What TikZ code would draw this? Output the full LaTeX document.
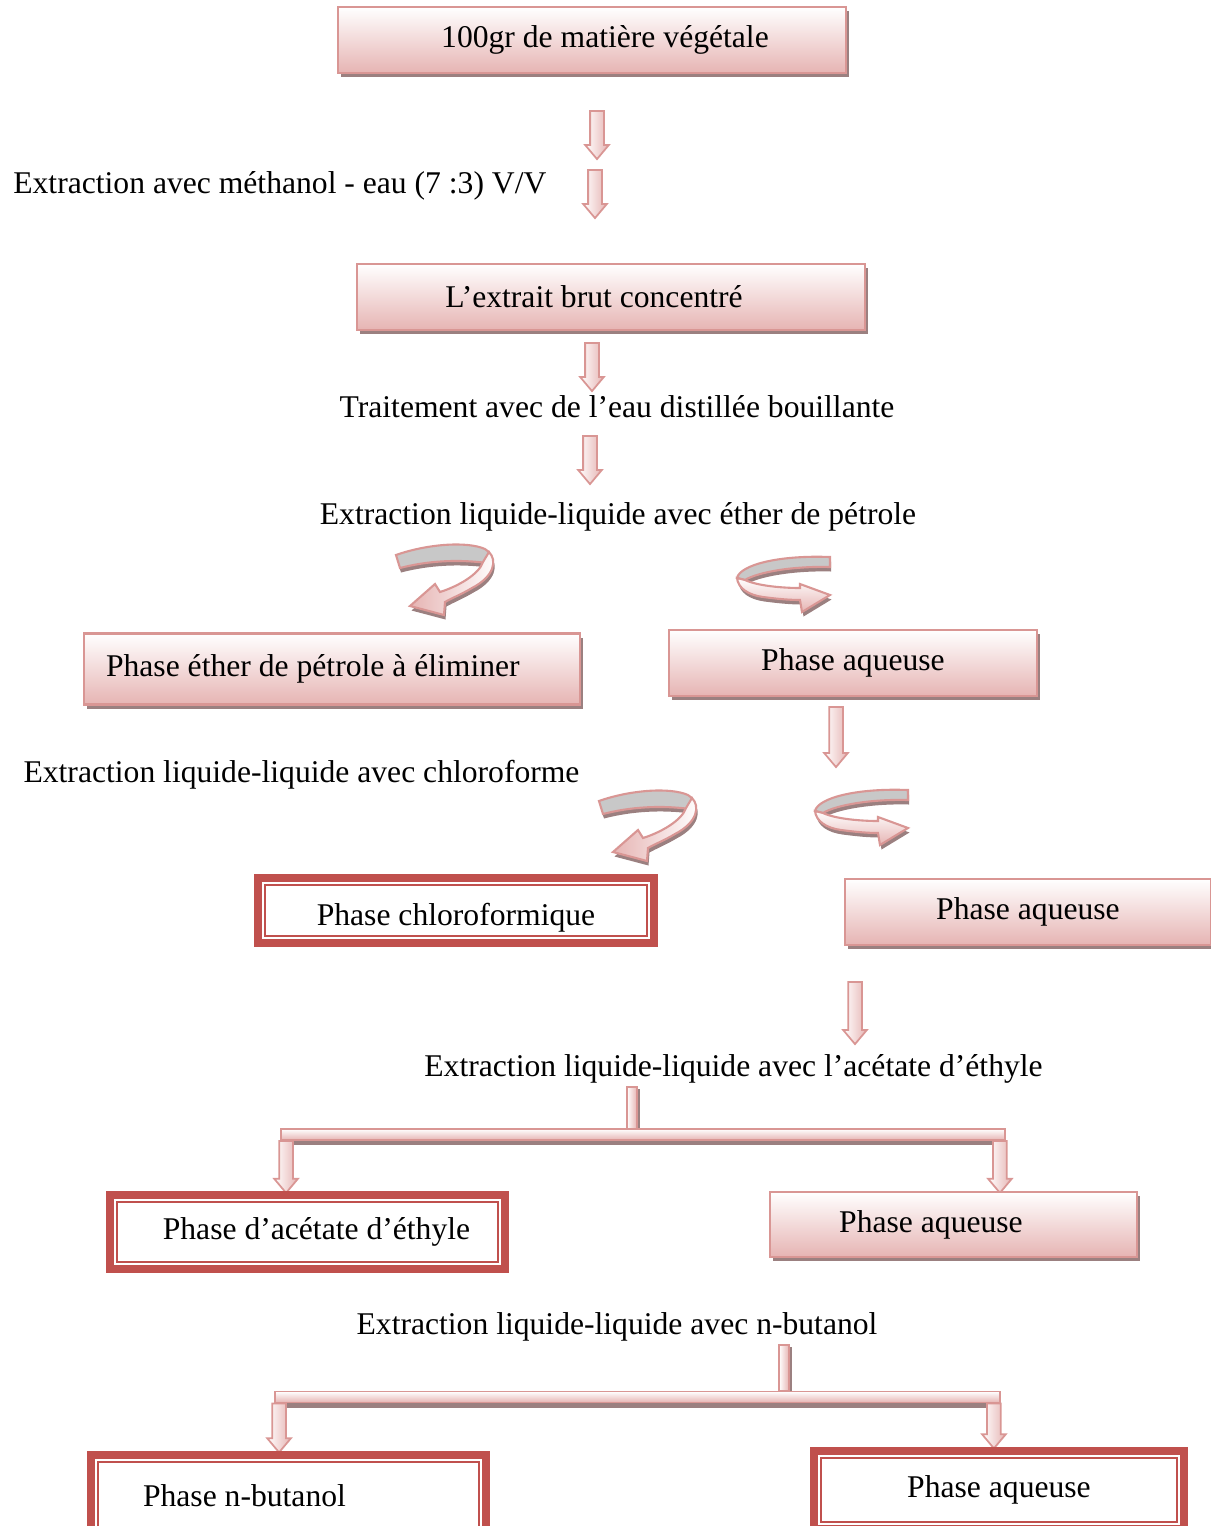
\documentclass[tikz,border=0pt]{standalone}
\usepackage{fontspec}
\setmainfont{Liberation Serif}
\usetikzlibrary{shapes.arrows,shadows}

\definecolor{roseline}{RGB}{217,150,148}
\definecolor{rosefill}{RGB}{230,180,179}
\definecolor{rosedark}{RGB}{192,80,77}
\definecolor{hatch}{RGB}{155,128,128}
\definecolor{backband}{RGB}{200,200,200}

\tikzset{
  phasebox/.style={draw=roseline,line width=1.3pt,top color=white,bottom color=rosefill,
    minimum height=1.32cm,inner sep=0pt,
    drop shadow={shadow xshift=0.06cm,shadow yshift=-0.08cm,fill=hatch,opacity=1}},
  keepbox/.style={draw=rosedark,line width=0.16cm,fill=white,inner sep=0pt,outer sep=0pt},
  keepline/.style={draw=rosedark,line width=1pt},
  steplabel/.style={inner sep=0pt},
  downarr/.style={single arrow,shape border rotate=270,draw=roseline,line width=1pt,
    left color=white,right color=rosefill,inner sep=0.12cm,
    single arrow head extend=0.1cm,single arrow tip angle=80,minimum height=0.96cm},
  stembar/.style={draw=roseline,line width=1pt,left color=white,right color=rosefill,
    minimum width=0.2cm,inner sep=0pt,outer sep=0pt,
    drop shadow={shadow xshift=0.05cm,shadow yshift=-0.03cm,fill=hatch,opacity=1}},
  crossbar/.style={draw=roseline,line width=1pt,top color=white,bottom color=rosefill,
    minimum height=0.22cm,inner sep=0pt,outer sep=0pt,
    drop shadow={shadow xshift=0.03cm,shadow yshift=-0.1cm,fill=hatch,opacity=1}},
  bandback/.style={draw=roseline,line width=1.2pt,fill=backband,
    drop shadow={shadow xshift=0.02cm,shadow yshift=-0.09cm,fill=hatch,opacity=1}},
  bandfront/.style={draw=roseline,line width=1.2pt,
    drop shadow={shadow xshift=0.03cm,shadow yshift=-0.09cm,fill=hatch,opacity=1}},
  curvleft/.pic={
    \draw[bandback] (-1,9) .. controls (30,-2) and (70,-5) .. (88,3)
      .. controls (94,6) and (95,12) .. (90,17) .. controls (60,13) and (30,15) .. (3,22) -- cycle;
    \draw[bandfront,left color=rosefill,right color=white] (92,6) .. controls (100,14) and (98,30) .. (75,42)
      .. controls (65,48) and (55,52) .. (48,56) -- (47,69) -- (13,60) -- (38,38) -- (43,46)
      .. controls (62,40) and (82,28) .. (86,16) -- cycle;
  },
  curvright/.pic={
    \draw[bandback] (92,2) -- (92,12) .. controls (55,11) and (20,17) .. (7,25) -- (-1,23)
      .. controls (2,10) and (40,0) .. (92,2) -- cycle;
    \draw[bandfront,top color=white,bottom color=rosefill] (-1,23) .. controls (0,33) and (10,40) .. (25,42)
      .. controls (40,44) and (52,45) .. (62,45) -- (64,57) -- (92,40) -- (62,29) -- (62,33)
      .. controls (45,33) and (20,31) .. (7,25) -- cycle;
  },
}
\newcommand\innerframe[1]{\draw[keepline] ([shift={(7,-7)}]#1.south west) rectangle ([shift={(-7,7)}]#1.north east);}

\begin{document}
\begin{tikzpicture}[x=0.02cm,y=-0.02cm,font=\fontsize{18}{21.6}\selectfont]
\path[use as bounding box,clip] (0,0) rectangle (1211,1526);
% first steps
\node[phasebox,minimum width=10.16cm] (vegetal) at (592,40) {\kern0.52cm 100gr de matière végétale};
\node[downarr] (a1) at (597,131) {};
\node[downarr] (a2) at (595,190) {};
\node[steplabel,anchor=west] (methanol) at (13,186) {Extraction avec méthanol - eau (7 :3) V/V};
\node[phasebox,minimum width=10.16cm] (brut) at (611,297) {L’extrait brut concentré\kern0.68cm};
\node[downarr] (a3) at (592,363) {};
\node[steplabel] (eau) at (617,407) {Traitement avec de l’eau distillée bouillante};
\node[downarr] (a4) at (590,456) {};
\node[steplabel] (ether) at (618,517) {Extraction liquide-liquide avec éther de pétrole};
\pic at (397,546) {curvleft};
\pic at (738,555) {curvright};
\node[phasebox,minimum width=9.92cm,minimum height=1.42cm,text width=9.04cm,align=flush left,inner xsep=0.44cm] (elim) at (332,669) {Phase éther de pétrole à éliminer};
\node[phasebox,minimum width=7.36cm] (aq1) at (853,663) {Phase aqueuse};
% chloroforme
\node[downarr,minimum height=1.2cm] (a5) at (836,733) {};
\node[steplabel] (chloro) at (301.5,775) {Extraction liquide-liquide avec chloroforme};
\pic at (600,792) {curvleft};
\pic at (816,788) {curvright};
\node[keepbox,minimum width=7.92cm,minimum height=1.3cm] (chlf) at (456,910.5) {\raisebox{-0.14cm}[\height][\depth]{Phase chloroformique}};
\innerframe{chlf}
\node[phasebox,minimum width=7.32cm] (aq2) at (1028,912) {Phase aqueuse};
% acetate d'ethyle
\node[downarr,minimum height=1.24cm] (a6) at (855,1009) {};
\node[steplabel] (acet) at (733.5,1069) {Extraction liquide-liquide avec l’acétate d’éthyle};
\node[stembar,minimum height=0.84cm] (stem1) at (632,1108) {};
\node[crossbar,minimum width=14.48cm] (bar1) at (643,1134.5) {};
\node[downarr,anchor=tail,minimum height=1.04cm] (a7) at ([xshift=0.1cm]bar1.south west) {};
\node[downarr,anchor=tail,minimum height=1.04cm] (a8) at ([xshift=-0.1cm]bar1.south east) {};
\node[keepbox,minimum width=7.9cm,minimum height=1.48cm] (acetbox) at (307.5,1232) {\kern0.36cm Phase d’acétate d’éthyle};
\innerframe{acetbox}
\node[phasebox,minimum width=7.34cm,minimum height=1.3cm] (aq3) at (953.5,1224.5) {Phase aqueuse\kern0.9cm};
% n-butanol
\node[steplabel] (buta) at (617,1327) {Extraction liquide-liquide avec n-butanol};
\node[stembar,minimum height=0.92cm] (stem2) at (784,1368) {};
\node[crossbar,minimum width=14.5cm] (bar2) at (637.5,1397) {};
\node[downarr,anchor=tail,minimum height=0.98cm] (a9) at ([xshift=0.08cm]bar2.south west) {};
\node[downarr,anchor=tail,minimum height=0.9cm] (a10) at ([xshift=-0.12cm]bar2.south east) {};
\node[keepbox,minimum width=7.9cm,minimum height=1.64cm,text width=5.82cm,align=flush left,inner xsep=1.04cm] (butbox) at (288.5,1496) {Phase n-butanol};
\innerframe{butbox}
\node[keepbox,minimum width=7.4cm,minimum height=1.56cm] (aq4) at (999,1490) {Phase aqueuse};
\innerframe{aq4}
\end{tikzpicture}
\end{document}
